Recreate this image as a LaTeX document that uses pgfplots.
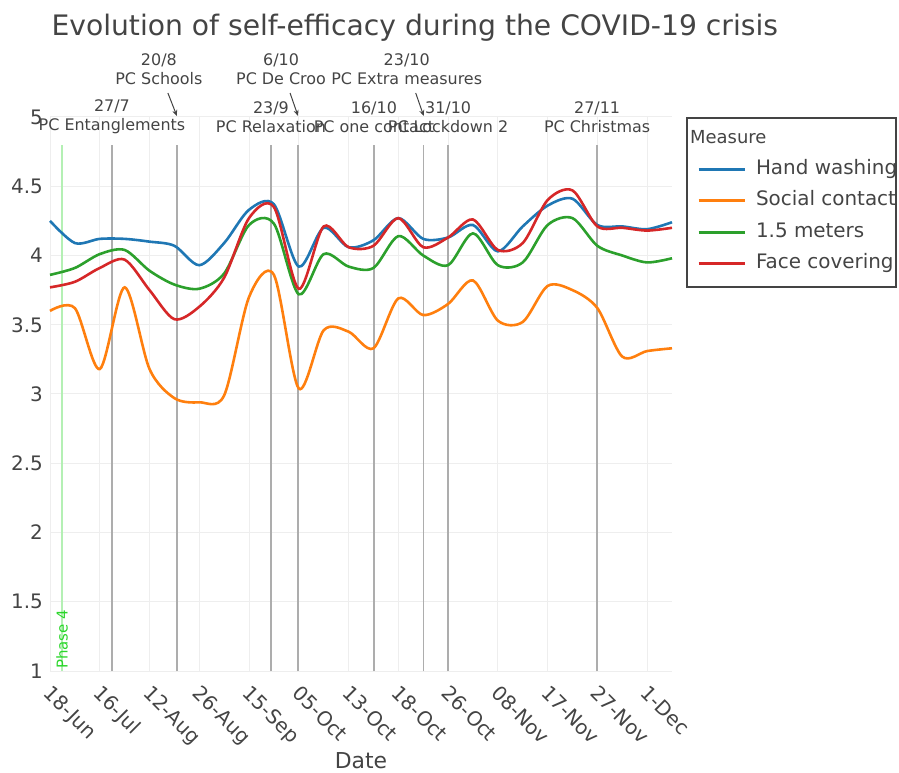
\documentclass[border=0pt]{standalone}
\usepackage{fontspec}
\setmainfont{DejaVu Sans}
\usepackage{pgfplots}
\usepackage{pgfplotstable}
\pgfplotsset{compat=1.18}
\usetikzlibrary{arrows.meta}
\definecolor{ink}{HTML}{444444}
\definecolor{gridc}{HTML}{EEEEEE}
\definecolor{evline}{HTML}{ADADAD}
\definecolor{pBlue}{HTML}{1F77B4}
\definecolor{pOrange}{HTML}{FF7F0E}
\definecolor{pGreen}{HTML}{2CA02C}
\definecolor{pRed}{HTML}{D62728}
\definecolor{phaseL}{HTML}{B4F0B4}
\definecolor{phaseT}{HTML}{2BD62B}

% x = category index (ticks labelled every second one)
\pgfplotstableread{
x  hand social meters face
0  4.25 3.60 3.86 3.77
1  4.09 3.62 3.91 3.81
2  4.12 3.18 4.01 3.91
3  4.12 3.77 4.04 3.97
4  4.10 3.18 3.89 3.75
5  4.07 2.97 3.79 3.54
6  3.93 2.94 3.76 3.63
7  4.09 2.99 3.87 3.84
8  4.33 3.70 4.22 4.27
9  4.37 3.86 4.23 4.35
10 3.92 3.04 3.72 3.76
11 4.20 3.46 4.01 4.21
12 4.06 3.45 3.92 4.06
13 4.11 3.33 3.91 4.07
14 4.27 3.69 4.14 4.27
15 4.12 3.57 4.00 4.06
16 4.13 3.65 3.93 4.13
17 4.22 3.82 4.16 4.26
18 4.03 3.53 3.93 4.04
19 4.21 3.52 3.95 4.09
20 4.36 3.78 4.22 4.40
21 4.41 3.75 4.27 4.47
22 4.22 3.62 4.07 4.21
23 4.21 3.27 4.00 4.20
24 4.19 3.31 3.95 4.18
25 4.24 3.33 3.98 4.20
}\selfeff

\tikzset{
  ann/.style={font=\fontsize{16}{19}\selectfont, text=ink, align=center, inner sep=0pt},
  annarrow/.style={ink, line width=1bp, -{Stealth[length=6bp,width=5bp]}},
}

\begin{document}
\begin{tikzpicture}
\useasboundingbox (0,0) rectangle (899bp,773bp);
\begin{axis}[
  at={(50bp,102bp)}, anchor=south west,
  width=622bp, height=554bp, scale only axis,
  xmin=0, xmax=25, ymin=1, ymax=5,
  xtick={0,2,4,6,8,10,12,14,16,18,20,22,24},
  xticklabels={18-Jun,16-Jul,12-Aug,26-Aug,15-Sep,05-Oct,13-Oct,18-Oct,26-Oct,08-Nov,17-Nov,27-Nov,1-Dec},
  ytick={1,1.5,2,2.5,3,3.5,4,4.5,5},
  grid=major, grid style={gridc, line width=1bp},
  axis line style={draw=none}, major tick length=0pt,
  tick label style={font=\fontsize{20}{24}\selectfont, text=ink},
  /pgf/number format/assume math mode=true,
  yticklabel style={anchor=east, inner sep=0pt, xshift=-7bp},
  xticklabel style={inner sep=0pt, xshift=3bp, yshift=-13bp, rotate=-45, anchor=north west},
  clip=false,
  legend style={at={(1,1)}, anchor=north west, xshift=25bp, yshift=-42bp,
    draw=none, fill=none, inner sep=0pt,
    font=\fontsize{20}{24}\selectfont, text=ink,
    /tikz/row sep=11.5bp, /tikz/column sep=10bp,
    nodes={inner sep=0pt, text height=15bp, text depth=5bp}},
  legend cell align=left,
  legend image code/.code={\draw[#1, line width=2.8bp] (0bp,0bp) -- (46bp,0bp);},
  every axis plot/.append style={line width=2.6bp, smooth},
]
  % event lines
  \draw[phaseL, line width=1.2bp] (axis cs:0.48,1) -- (axis cs:0.48,4.8);
  \pgfplotsinvokeforeach{2.49,5.1,8.88,9.97,13.02,15.02,16.0,21.99}{
    \draw[evline, line width=1.4bp] (axis cs:#1,1) -- (axis cs:#1,4.8);
  }
  \coordinate (ph) at (axis cs:0.48,1);
  \coordinate (e1) at (axis cs:2.49,5);
  \coordinate (e2) at (axis cs:5.1,5);
  \coordinate (e3) at (axis cs:8.88,5);
  \coordinate (e4) at (axis cs:9.97,5);
  \coordinate (e5) at (axis cs:13.02,5);
  \coordinate (e6) at (axis cs:15.02,5);
  \coordinate (e7) at (axis cs:16.0,5);
  \coordinate (e8) at (axis cs:21.99,5);

  \addplot[pBlue] table[x=x, y=hand] {\selfeff};
  \addlegendentry{Hand washing}
  \addplot[pOrange] table[x=x, y=social] {\selfeff};
  \addlegendentry{Social contact}
  \addplot[pGreen] table[x=x, y=meters] {\selfeff};
  \addlegendentry{1.5 meters}
  \addplot[pRed] table[x=x, y=face] {\selfeff};
  \addlegendentry{Face covering}
\end{axis}

% title and axis title
\node[anchor=base west, font=\fontsize{28.3}{34}\selectfont, text=ink] at (48bp,737bp)
  {Evolution of self-efficacy during the COVID-19 crisis};
\node[anchor=base, font=\fontsize{22}{26}\selectfont, text=ink] at (361bp,5bp) {Date};

% legend frame and title
\draw[ink, line width=1.2bp] (687bp,655bp) rectangle (896bp,486bp);
\node[anchor=west, font=\fontsize{18}{22}\selectfont, text=ink, inner sep=0pt] at (690bp,636bp) {Measure};

% phase marker
\node[rotate=90, anchor=west, font=\fontsize{15}{18}\selectfont, text=phaseT, inner sep=0pt]
  at ([yshift=2bp]ph) {Phase 4};

% annotations
\node[ann] at (e1) {27/7\\PC Entanglements};
\node[ann] at (e3) {23/9\\PC Relaxation};
\node[ann] at (e5) {16/10\\PC one contact};
\node[ann] at (e7) {31/10\\PC Lockdown 2};
\node[ann] at (e8) {27/11\\PC Christmas};

\node[ann, xshift=-18bp, yshift=47.5bp] at (e2) {20/8\\PC Schools};
\draw[annarrow] ([shift={(-9bp,24bp)}]e2) -- ([yshift=1bp]e2);
\node[ann, xshift=-17bp, yshift=47.5bp] at (e4) {6/10\\PC De Croo};
\draw[annarrow] ([shift={(-8bp,24bp)}]e4) -- ([yshift=1bp]e4);
\node[ann, xshift=-17bp, yshift=47.5bp] at (e6) {23/10\\PC Extra measures};
\draw[annarrow] ([shift={(-8bp,24bp)}]e6) -- ([yshift=1bp]e6);
\end{tikzpicture}
\end{document}
